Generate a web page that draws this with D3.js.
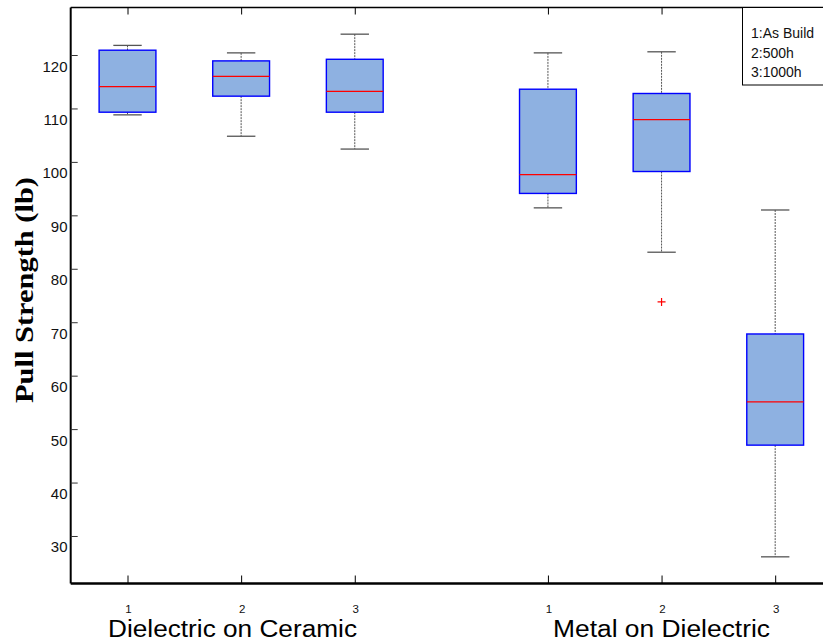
<!DOCTYPE html>
<html>
<head>
<meta charset="utf-8">
<script src="https://cdn.jsdelivr.net/npm/d3@7/dist/d3.min.js"></script>
<style>
  html, body { margin: 0; padding: 0; background: #fff; }
  svg { display: block; }
</style>
</head>
<body>
<svg id="chart" width="823" height="641"></svg>
<script>
// Pull strength after aging, grouped by assembly type
const groups = ["Dielectric on Ceramic", "Metal on Dielectric"];
const conditionLabels = ["1", "2", "3"];
const positions = [1, 2, 3, 4.7, 5.7, 6.7];
const whiskerLow  = [108.8, 104.8, 102.4, 91.4, 83.1, 26.1];
const q1          = [109.3, 112.3, 109.3, 94.1, 98.2, 47.0];
const medians     = [114.1, 116.0, 113.2, 97.6, 107.9, 55.1];
const q3          = [120.9, 118.9, 119.2, 113.6, 112.8, 67.8];
const whiskerHigh = [121.8, 120.4, 123.9, 120.4, 120.6, 91.0];
const outliers    = [[], [], [], [], [73.8], []];
const yTicks = [30, 40, 50, 60, 70, 80, 90, 100, 110, 120];
const legendLines = ["1:As Build", "2:500h", "3:1000h"];

const svg = d3.select("#chart");
const plotLeft = 70.7, plotRight = 832, plotTop = 7.5, plotBottom = 583.5;

const x = d3.scaleLinear().domain([0.5, 7.2]).range([plotLeft, plotRight]);
const y = d3.scaleLinear().domain([21.11, 128.89]).range([plotBottom, plotTop]);

const boxW = 0.5, capW = 0.25;
const font = "'Liberation Sans', Arial, sans-serif";

// Boxes
const boxes = svg.append("g");
positions.forEach((p, i) => {
  const g = boxes.append("g");
  // whiskers
  [[whiskerHigh[i], q3[i]], [q1[i], whiskerLow[i]]].forEach(([a, b]) => {
    g.append("line")
      .attr("x1", x(p)).attr("x2", x(p))
      .attr("y1", y(a)).attr("y2", y(b))
      .attr("stroke", "#555").attr("stroke-width", 1)
      .attr("stroke-dasharray", "2,1");
  });
  [whiskerHigh[i], whiskerLow[i]].forEach(v => {
    g.append("line")
      .attr("x1", x(p - capW / 2)).attr("x2", x(p + capW / 2))
      .attr("y1", y(v)).attr("y2", y(v))
      .attr("stroke", "#555").attr("stroke-width", 1.3);
  });
  g.append("rect")
    .attr("x", x(p - boxW / 2)).attr("y", y(q3[i]))
    .attr("width", x(p + boxW / 2) - x(p - boxW / 2))
    .attr("height", y(q1[i]) - y(q3[i]))
    .attr("fill", "#8eb1e1").attr("stroke", "#0000ff").attr("stroke-width", 1.4);
  g.append("line")
    .attr("x1", x(p - boxW / 2)).attr("x2", x(p + boxW / 2))
    .attr("y1", y(medians[i])).attr("y2", y(medians[i]))
    .attr("stroke", "#ff0000").attr("stroke-width", 1.2);
  outliers[i].forEach(v => {
    g.append("path")
      .attr("d", `M${x(p) - 4},${y(v)}H${x(p) + 4}M${x(p)},${y(v) - 4}V${y(v) + 4}`)
      .attr("stroke", "#ff0000").attr("stroke-width", 1.2).attr("fill", "none");
  });
});

// Axes frame
const frame = svg.append("g").attr("stroke", "#000").attr("fill", "none");
frame.append("path").attr("d", `M${plotLeft},${plotTop}H${plotRight}`).attr("stroke-width", 1.6);
frame.append("path").attr("d", `M${plotLeft},${plotTop}V${plotBottom}`).attr("stroke-width", 2);
frame.append("path").attr("d", `M${plotLeft},${plotBottom}H${plotRight}`).attr("stroke-width", 2.4);

// Y axis: inward ticks, labels sitting a little below each tick
const yAxis = svg.append("g").attr("transform", `translate(${plotLeft},0)`)
  .call(d3.axisRight(y).tickValues(yTicks).tickSize(7).tickFormat(""));
yAxis.select(".domain").remove();
yAxis.selectAll(".tick line").attr("stroke", "#333").attr("stroke-width", 1);
svg.append("g").selectAll("text").data(yTicks).join("text")
  .attr("x", 67.5).attr("y", d => y(d) + 16.5)
  .attr("text-anchor", "end")
  .attr("font-family", font).attr("font-size", 15).attr("fill", "#111")
  .text(d => d);

// Bottom and top ticks
const xb = svg.append("g").attr("transform", `translate(0,${plotBottom})`)
  .call(d3.axisTop(x).tickValues(positions).tickSize(8).tickFormat(""));
xb.select(".domain").remove();
xb.selectAll(".tick line").attr("stroke", "#000").attr("stroke-width", 1);
const xt = svg.append("g").attr("transform", `translate(0,${plotTop})`)
  .call(d3.axisBottom(x).tickValues(positions).tickSize(7).tickFormat(""));
xt.select(".domain").remove();
xt.selectAll(".tick line").attr("stroke", "#000").attr("stroke-width", 1);

// Condition numbers under each box
svg.append("g").selectAll("text").data(positions).join("text")
  .attr("x", d => x(d) + 1).attr("y", 612.5)
  .attr("text-anchor", "middle")
  .attr("font-family", font).attr("font-size", 11.5).attr("fill", "#111")
  .text((d, i) => conditionLabels[i % 3]);

// Group names
svg.append("g").selectAll("text").data(groups).join("text")
  .attr("x", (d, i) => i === 0 ? 108 : 553).attr("y", 637)
  .attr("font-family", font).attr("font-size", 23.5).attr("fill", "#000")
  .attr("textLength", (d, i) => i === 0 ? 249 : 217)
  .attr("lengthAdjust", "spacingAndGlyphs")
  .text(d => d);

// Y axis title
svg.append("text")
  .attr("transform", `translate(33,290) rotate(-90)`)
  .attr("text-anchor", "middle")
  .attr("font-family", "'Liberation Serif', 'Times New Roman', serif")
  .attr("font-weight", "bold").attr("font-size", 26).attr("fill", "#000")
  .attr("textLength", 226).attr("lengthAdjust", "spacingAndGlyphs")
  .text("Pull Strength (lb)");

// Legend box
const lg = svg.append("g");
lg.append("rect").attr("x", 742.5).attr("y", plotTop).attr("width", 100).attr("height", 85 - plotTop)
  .attr("fill", "#fff").attr("stroke", "#000").attr("stroke-width", 1);
lg.selectAll("text").data(legendLines).join("text")
  .attr("x", 751).attr("y", (d, i) => 38 + i * 19.5)
  .attr("font-family", font).attr("font-size", 14).attr("fill", "#111")
  .text(d => d);
</script>
</body>
</html>
